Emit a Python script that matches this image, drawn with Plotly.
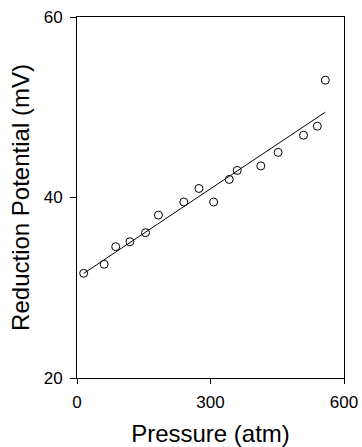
import numpy as np
import plotly.graph_objects as go

pressure = [15, 61, 87, 119, 154, 183, 240, 274, 307, 342, 360, 413, 452, 509, 540, 558]
potential = [31.6, 32.6, 34.55, 35.1, 36.1, 38.05, 39.5, 41.0, 39.5, 42.0, 43.0, 43.5, 45.0, 46.9, 47.9, 53.0]

x_ticks = [0, 300, 600]
y_ticks = [20, 40, 60]

slope, intercept = np.polyfit(pressure, potential, 1)
fit_x = [min(pressure), max(pressure)]
fit_y = [slope * v + intercept for v in fit_x]

fig = go.Figure()
fig.add_trace(go.Scatter(x=fit_x, y=fit_y, mode="lines",
                         line=dict(color="black", width=1), showlegend=False))
fig.add_trace(go.Scatter(x=pressure, y=potential, mode="markers",
                         marker=dict(symbol="circle-open", size=8, color="black",
                                     line=dict(width=1, color="black")),
                         showlegend=False))

font = "Liberation Sans, Arial, sans-serif"
fig.update_layout(
    width=362, height=447,
    margin=dict(l=77, r=18, t=17, b=69),
    paper_bgcolor="white", plot_bgcolor="white",
    font=dict(family=font, color="black", size=17),
    xaxis=dict(range=[0, 600], tickvals=x_ticks, ticks="outside", ticklen=5,
               tickcolor="black", showline=True, linecolor="black", linewidth=1,
               mirror=True, showgrid=False, zeroline=False, automargin=False,
               ticklabelstandoff=4,
               title=dict(text="Pressure (atm)", font=dict(size=24), standoff=18)),
    yaxis=dict(range=[20, 60], tickvals=y_ticks, ticks="outside", ticklen=6,
               tickcolor="black", showline=True, linecolor="black", linewidth=1,
               mirror=True, showgrid=False, zeroline=False, automargin=False,
               ticklabelstandoff=4,
               title=dict(text="Reduction Potential (mV)", font=dict(size=24), standoff=7)),
)

fig.write_html("out.html", config={"displayModeBar": False},
               post_script="document.body.style.margin='0';document.body.style.padding='0';")
